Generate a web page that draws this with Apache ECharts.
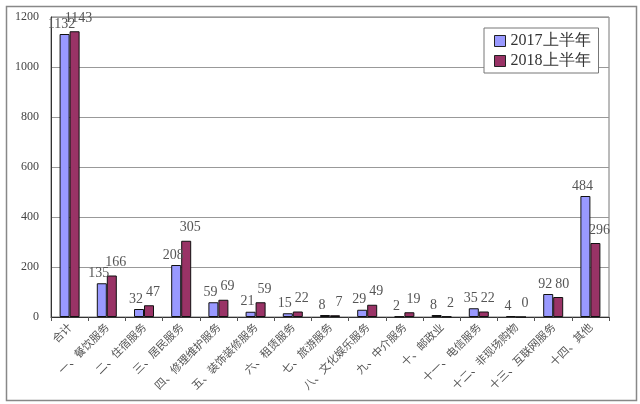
<!DOCTYPE html>
<html><head><meta charset="utf-8">
<script src="https://cdn.jsdelivr.net/npm/echarts@6/dist/echarts.min.js"></script>
<style>html,body{margin:0;padding:0;background:#fff}#c{width:640px;height:404px}</style>
</head><body><div id="c"></div>
<script>
var categories = ['合计','一、餐饮服务','二、住宿服务','三、居民服务','四、修理维护服务','五、装饰装修服务','六、租赁服务','七、旅游服务','八、文化娱乐服务','九、中介服务','十、邮政业','十一、电信服务','十二、非现场购物','十三、互联网服务','十四、其他'];
var seriesNames = ['2017上半年','2018上半年'];
var values2017 = [1132,135,32,208,59,21,15,8,29,2,8,35,4,92,484];
var values2018 = [1143,166,47,305,69,59,22,7,49,19,2,22,0,80,296];
var yTicks = {min:0, max:1200, interval:200};

var serif = '"Liberation Serif","DejaVu Serif",serif';
var chart = echarts.init(document.getElementById('c'));
chart.setOption({
  animation:false,
  backgroundColor:'#fff',
  graphic:[{type:'rect',left:4,top:4,shape:{width:630,height:394},style:{fill:'none',stroke:'#888',lineWidth:1.5}}],
  grid:{left:51,right:31,top:17,bottom:87,show:true,borderColor:'#777',borderWidth:1},
  legend:{orient:'vertical',left:484,top:28,itemWidth:11,itemHeight:11,itemGap:4,
    padding:[5,8,4,10],borderColor:'#777',borderWidth:1,backgroundColor:'#fff',
    textStyle:{fontFamily:serif,fontSize:16,color:'#333'},
    data:seriesNames.map(function(n){return {name:n,icon:'rect',itemStyle:{borderColor:'#222',borderWidth:1}};})},
  xAxis:{type:'category',data:categories,
    axisLine:{lineStyle:{color:'#333'}},
    axisTick:{show:true,interval:0,lineStyle:{color:'#555'},length:4},
    axisLabel:{interval:0,rotate:45,fontSize:11,color:'#555',margin:8,fontFamily:'"Noto Sans CJK SC",sans-serif'}},
  yAxis:{type:'value',min:yTicks.min,max:yTicks.max,interval:yTicks.interval,
    axisLine:{show:true,lineStyle:{color:'#333'}},
    axisTick:{show:false},
    splitLine:{lineStyle:{color:'#999'}},
    axisLabel:{fontFamily:serif,fontSize:12,color:'#444',margin:12,formatter:function(v){return String(v);}}},
  series:[
    {name:seriesNames[0],type:'bar',data:values2017,barWidth:10,barGap:'0%',
     itemStyle:{color:'#9999FF',borderColor:'#111',borderWidth:1},
     label:{show:true,position:'top',distance:3,fontFamily:serif,fontSize:14,color:'#555',offset:[-3,0]}},
    {name:seriesNames[1],type:'bar',data:values2018,barWidth:10,
     itemStyle:{color:'#993366',borderColor:'#111',borderWidth:1},
     label:{show:true,position:'top',distance:6,fontFamily:serif,fontSize:14,color:'#555',offset:[4,0]}}
  ]
});
</script></body></html>
